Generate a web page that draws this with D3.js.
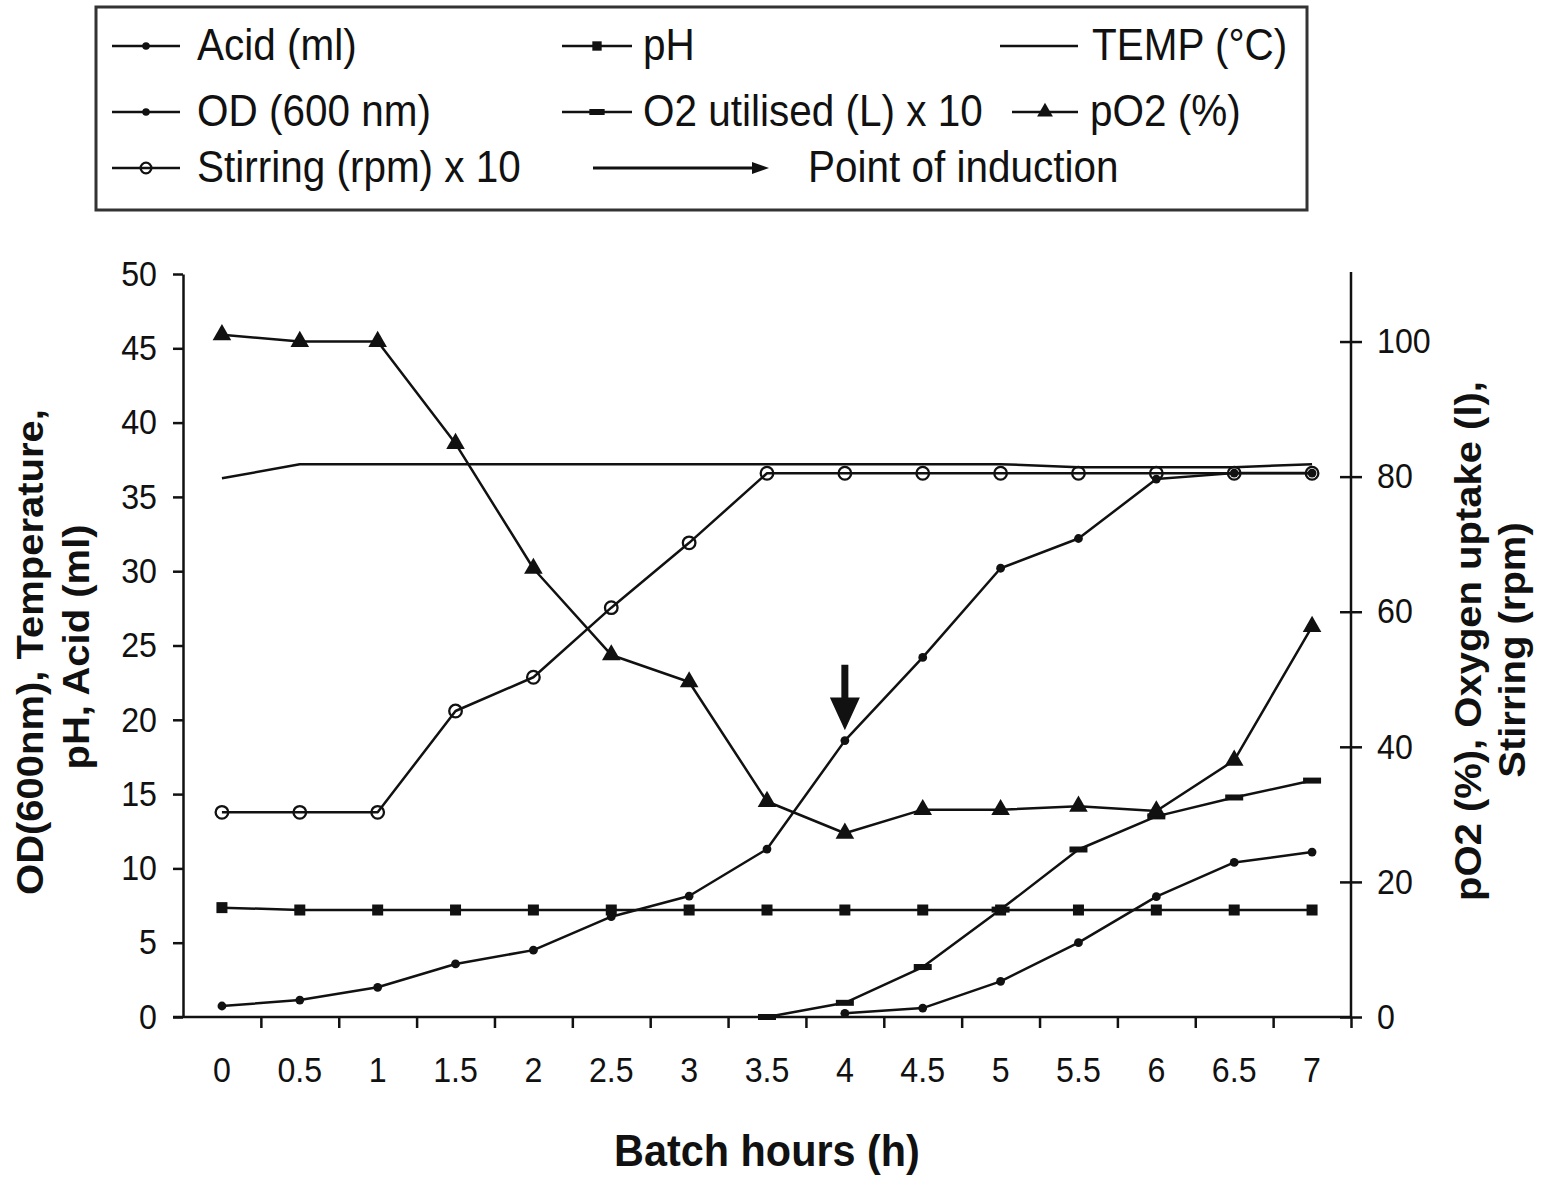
<!DOCTYPE html>
<html>
<head>
<meta charset="utf-8">
<script src="https://cdn.jsdelivr.net/npm/d3@7"></script>
<style>
  html, body { margin: 0; padding: 0; background: #fff; }
  svg { display: block; }
  text { font-family: "Liberation Sans", Arial, sans-serif; fill: #111; }
</style>
</head>
<body>
<svg id="chart" width="1550" height="1195"></svg>
<script>
// ---------------- DATA ----------------
const hours = ["0","0.5","1","1.5","2","2.5","3","3.5","4","4.5","5","5.5","6","6.5","7"];

// left axis series
const acid  = [null,null,null,null,null,null,null,null,0.25,0.6,2.4,5.0,8.1,10.4,11.1];
const od    = [0.74,1.14,2.0,3.57,4.5,6.75,8.14,11.3,18.6,24.2,30.2,32.2,36.2,36.6,36.6];
const ph    = [7.36,7.2,7.2,7.2,7.2,7.2,7.2,7.2,7.2,7.2,7.2,7.2,7.2,7.2,7.2];
const temp  = [36.25,37.2,37.2,37.2,37.2,37.2,37.2,37.2,37.2,37.2,37.2,37.0,37.0,37.0,37.2];

// right axis series
const o2used   = [null,null,null,null,null,null,null,0,2.1,7.4,15.9,24.8,29.7,32.5,35.0];
const pO2      = [101,100,100,84.9,66.4,53.6,49.6,31.9,27.2,30.7,30.7,31.2,30.5,38.0,57.8];
const stirring = [30.3,30.3,30.3,45.3,50.3,60.6,70.2,80.5,80.5,80.5,80.5,80.5,80.5,80.5,80.5];

const leftTicks  = [0,5,10,15,20,25,30,35,40,45,50];
const rightTicks = [0,20,40,60,80,100];
const leftDomain = [0, 50];
const rightDomain = [0, 110];

const inductionHour = "4";
const inductionArrow = [23.7, 21.5, 19.3]; // shaft top, head base, tip (left-axis units)

const leftTitle  = ["OD(600nm), Temperature,", "pH, Acid (ml)"];
const rightTitle = ["pO2 (%), Oxygen uptake (l),", "Stirring (rpm)"];
const xTitle = "Batch hours (h)";

// legend entries
const legendRows = [
  [{label:"Acid (ml)", marker:"dot"}, {label:"pH", marker:"square"}, {label:"TEMP (°C)", marker:null}],
  [{label:"OD (600 nm)", marker:"dot"}, {label:"O2 utilised (L) x 10", marker:"dash"}, {label:"pO2 (%)", marker:"triangle"}],
  [{label:"Stirring (rpm) x 10", marker:"circle"}, {label:"Point of induction", marker:"arrow"}]
];

// ---------------- LAYOUT ----------------
const SX = 0.92;         // horizontal condensation of the whole figure
const INK = "#111";
const svg = d3.select("#chart");

const X0 = 183, X1 = 1351, YT = 274, YB = 1017;

const x = d3.scaleBand().domain(hours).range([X0, X1]).padding(0);
const xEdge = d3.scaleLinear().domain([0, hours.length]).range([X0, X1]);
const yL = d3.scaleLinear().domain(leftDomain).range([YB, YT]);
const yR = d3.scaleLinear().domain(rightDomain).range([YB, YT]);
const cx = h => x(h) + x.bandwidth() / 2;

function addText(g, px, py, str, o) {
  o = o || {};
  const sc = o.rotate ? `scale(1,${SX})` : `scale(${SX},1)`;
  return g.append("text")
    .attr("transform", `translate(${px},${py})${o.rotate ? ` rotate(${o.rotate})` : ""} ${sc}`)
    .attr("text-anchor", o.anchor || "start")
    .style("font-size", (o.size || 44) + "px")
    .style("font-weight", o.weight || "normal")
    .text(str);
}

// ---------------- AXES ----------------
const axisStyle = sel => {
  sel.selectAll("path.domain").attr("stroke", INK).attr("stroke-width", 2.5);
  sel.selectAll(".tick line").attr("stroke", INK).attr("stroke-width", 2.5);
  sel.selectAll(".tick text").style("font-family", '"Liberation Sans", Arial, sans-serif')
     .style("font-size", "35px").attr("fill", INK);
};

// left axis
const gL = svg.append("g").attr("transform", `translate(${X0},0)`)
  .call(d3.axisLeft(yL).tickValues(leftTicks).tickSizeInner(10).tickSizeOuter(0).tickPadding(16).tickFormat(d3.format("d")));
axisStyle(gL);
gL.selectAll(".tick text").attr("x", null).attr("transform", `translate(-26,0) scale(${SX},1)`);

// right axis (ticks crossing)
const gR = svg.append("g").attr("transform", `translate(${X1},0)`)
  .call(d3.axisRight(yR).tickValues(rightTicks).tickSizeInner(11).tickSizeOuter(0).tickPadding(16).tickFormat(d3.format("d")));
axisStyle(gR);
gR.select("path.domain").attr("d", `M0,${YT - 2}V${YB}`);
gR.selectAll(".tick line").attr("x1", -11);
gR.selectAll(".tick text").attr("x", null).attr("transform", `translate(26,0) scale(${SX},1)`);

// bottom axis: boundary ticks
const gB = svg.append("g").attr("transform", `translate(0,${YB})`)
  .call(d3.axisBottom(xEdge).tickValues(d3.range(1, hours.length + 1)).tickSizeInner(11).tickSizeOuter(0).tickFormat(""));
axisStyle(gB);
gB.select("path.domain").attr("d", `M${X0 - 10},0H${X1}`);
// bottom axis labels at band centres
const gBL = svg.append("g").attr("transform", `translate(0,${YB})`)
  .call(d3.axisBottom(x).tickSize(0).tickPadding(41));
axisStyle(gBL);
gBL.select("path.domain").remove();
gBL.selectAll(".tick text").each(function() {
  const t = d3.select(this);
  const yy = +t.attr("y");
  t.attr("y", null).attr("dy", null).attr("transform", `translate(0,${yy + 24}) scale(${SX},1)`);
});

// axis titles
addText(svg, 43, 652, leftTitle[0], {rotate: -90, anchor: "middle", size: 40, weight: "bold"});
addText(svg, 89, 647, leftTitle[1], {rotate: -90, anchor: "middle", size: 40, weight: "bold"});
addText(svg, 1481, 641, rightTitle[0], {rotate: -90, anchor: "middle", size: 40, weight: "bold"});
addText(svg, 1525, 650, rightTitle[1], {rotate: -90, anchor: "middle", size: 40, weight: "bold"});
addText(svg, (X0 + X1) / 2, 1166, xTitle, {anchor: "middle", size: 45, weight: "bold"});

// ---------------- MARKERS ----------------
function drawMarker(g, type, px, py, small) {
  const k = small ? 0.85 : 1;
  if (type === "dot") {
    g.append("circle").attr("cx", px).attr("cy", py).attr("r", 4.4 * k).attr("fill", INK);
  } else if (type === "square") {
    const s = 11 * k;
    g.append("rect").attr("x", px - s / 2).attr("y", py - s / 2).attr("width", s).attr("height", s).attr("fill", INK);
  } else if (type === "dash") {
    const w = 18 * k, h = 6;
    g.append("rect").attr("x", px - w / 2).attr("y", py - h / 2).attr("width", w).attr("height", h).attr("fill", INK);
  } else if (type === "triangle") {
    g.append("path").attr("transform", `translate(${px},${py})`)
      .attr("d", d3.symbol().type(d3.symbolTriangle).size(150 * k * k)()).attr("fill", INK);
  } else if (type === "circle") {
    g.append("circle").attr("cx", px).attr("cy", py).attr("r", 6.3 * k)
      .attr("fill", "none").attr("stroke", INK).attr("stroke-width", 2.3);
  }
}

// ---------------- SERIES ----------------
const series = [
  {values: temp,     y: yL, marker: null},
  {values: ph,       y: yL, marker: "square"},
  {values: od,       y: yL, marker: "dot"},
  {values: acid,     y: yL, marker: "dot"},
  {values: o2used,   y: yR, marker: "dash"},
  {values: stirring, y: yR, marker: "circle"},
  {values: pO2,      y: yR, marker: "triangle"}
];

const plot = svg.append("g");
series.forEach(s => {
  const pts = hours.map((h, i) => ({h, v: s.values[i]})).filter(d => d.v !== null);
  const line = d3.line().x(d => cx(d.h)).y(d => s.y(d.v));
  plot.append("path").datum(pts).attr("d", line)
    .attr("fill", "none").attr("stroke", INK).attr("stroke-width", 2.5).attr("stroke-linejoin", "round");
  if (s.marker) {
    const mg = plot.append("g");
    pts.forEach(d => drawMarker(mg, s.marker, cx(d.h), s.y(d.v), false));
  }
});

// induction arrow
{
  const ax = cx(inductionHour);
  const yTop = yL(inductionArrow[0]), yBase = yL(inductionArrow[1]), yTip = yL(inductionArrow[2]);
  plot.append("path")
    .attr("d", `M${ax - 3.5},${yTop}H${ax + 3.5}V${yBase}H${ax + 15}L${ax},${yTip}L${ax - 15},${yBase}H${ax - 3.5}Z`)
    .attr("fill", INK);
}

// ---------------- LEGEND ----------------
const lg = svg.append("g");
lg.append("rect").attr("x", 96).attr("y", 7).attr("width", 1211).attr("height", 203)
  .attr("fill", "none").attr("stroke", "#333").attr("stroke-width", 3);

const rowY = [46, 112, 168];
const colLine = [[112, 180], [562, 632], [1000, 1078]];
const colText = [197, 643, 1092];

legendRows.forEach((row, r) => {
  row.forEach((item, c) => {
    const ly = rowY[r];
    if (item.marker === "arrow") {
      lg.append("line").attr("x1", 593).attr("x2", 756).attr("y1", ly).attr("y2", ly)
        .attr("stroke", INK).attr("stroke-width", 2.8);
      lg.append("path").attr("d", `M752,${ly - 6}L769,${ly}L752,${ly + 6}Z`).attr("fill", INK);
      addText(lg, 808, ly + 14, item.label, {size: 44});
      return;
    }
    let [a, b] = colLine[c];
    if (c === 2 && item.marker) a = 1012;
    lg.append("line").attr("x1", a).attr("x2", b).attr("y1", ly).attr("y2", ly)
      .attr("stroke", INK).attr("stroke-width", 2.5);
    if (item.marker) drawMarker(lg, item.marker, (a + b) / 2, ly, true);
    addText(lg, c === 2 && item.marker ? 1090 : colText[c], ly + 14, item.label, {size: 44});
  });
});
</script>
</body>
</html>
